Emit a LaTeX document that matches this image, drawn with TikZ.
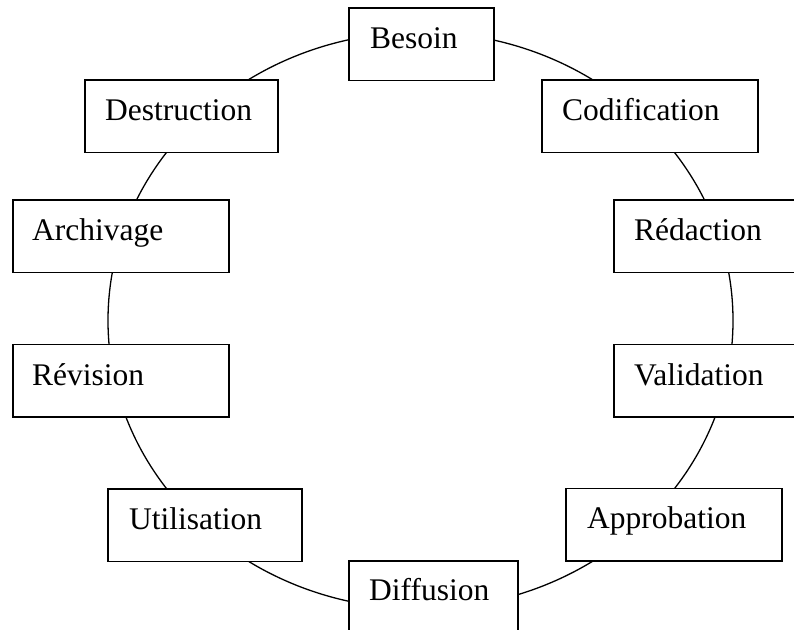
\documentclass[tikz,border=0pt]{standalone}
\usepackage{fontspec}
\setmainfont{Liberation Serif}
\begin{document}
\begin{tikzpicture}[x=1pt,y=-1pt,
  box/.style={draw=black, fill=white, line width=1.6pt, rectangle, inner sep=0pt, minimum height=72.5pt, anchor=north west},
  lbl/.style={anchor=base west, inner sep=0pt, font=\fontsize{31.5}{36}\selectfont},
  ring/.style={draw=black, line width=1.3pt}]
\fill[white] (0,0) rectangle (794,629);
\useasboundingbox (0,0) rectangle (794,629);
\draw[ring] (420.5,320.5) ellipse [x radius=312.5pt, y radius=288.4pt];
% boxes
\node[box, minimum width=145pt] (besoin) at (348,7) {};
\node[lbl] (besoinT) at (370,48) {Besoin};
\node[box, minimum width=216pt] (codif) at (541,79) {};
\node[lbl] (codifT) at (562,120) {Codification};
\node[box, minimum width=190pt] (redac) at (613,199) {};
\node[lbl] (redacT) at (634,240.5) {Rédaction};
\node[box, minimum width=190pt] (valid) at (613,343.5) {};
\node[lbl] (validT) at (634,385) {Validation};
\node[box, minimum width=216pt] (approb) at (565,487.5) {};
\node[lbl] (approbT) at (587,528) {Approbation};
\node[box, minimum width=169pt, minimum height=90pt] (diffus) at (348,560) {};
\node[lbl] (diffusT) at (369,600.5) {Diffusion};
\node[box, minimum width=194pt] (utilis) at (107,488) {};
\node[lbl] (utilisT) at (129,529) {Utilisation};
\node[box, minimum width=216pt] (revis) at (12,343.5) {};
\node[lbl] (revisT) at (32,385) {Révision};
\node[box, minimum width=216pt] (archiv) at (12,199) {};
\node[lbl] (archivT) at (32,240.5) {Archivage};
\node[box, minimum width=193pt] (destr) at (84,79) {};
\node[lbl] (destrT) at (105,120) {Destruction};
\end{tikzpicture}
\end{document}
